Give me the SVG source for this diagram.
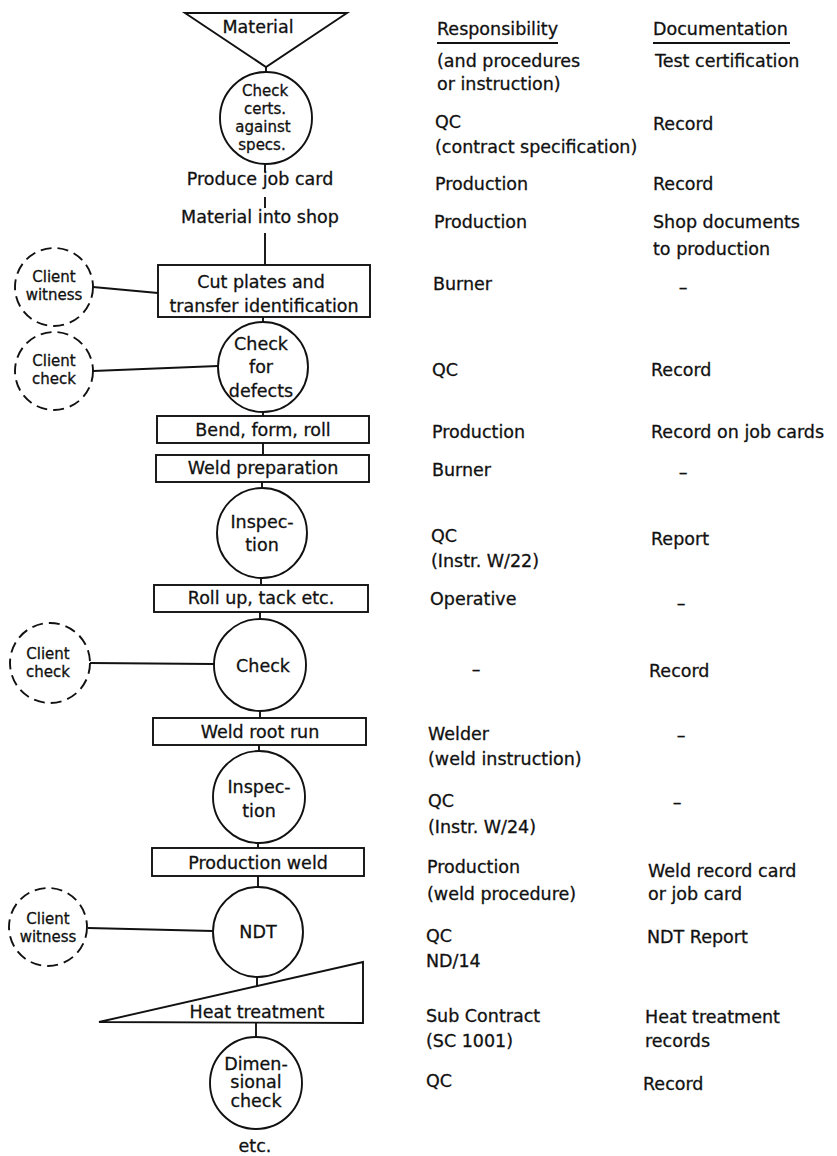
<svg xmlns="http://www.w3.org/2000/svg" width="837" height="1156" viewBox="0 0 837 1156">
  <style>
    text { font-family: "DejaVu Sans", "Liberation Sans", sans-serif; font-size: 17.5px; fill: #111; stroke: #111; stroke-width: 0.3; }
    .c { text-anchor: middle; }
    .cl { font-size: 15px; }
    .shape { fill: none; stroke: #111; stroke-width: 1.9; }
    .dash { fill: none; stroke: #111; stroke-width: 1.9; stroke-dasharray: 11 6; }
    .conn line { stroke: #111; stroke-width: 1.9; }
  </style>
  <rect width="837" height="1156" fill="#fff"/>

  <!-- connectors -->
  <g id="connectors" class="conn">
    <line x1="266" y1="67" x2="266" y2="72"/>
    <line x1="265" y1="164" x2="265" y2="172"/>
    <line x1="265" y1="197" x2="265" y2="208"/>
    <line x1="265" y1="233" x2="265" y2="265"/>
    <line x1="263" y1="317" x2="263" y2="322"/>
    <line x1="263" y1="412" x2="263" y2="416"/>
    <line x1="263" y1="443" x2="263" y2="455"/>
    <line x1="262" y1="482" x2="262" y2="487"/>
    <line x1="261" y1="578" x2="261" y2="585"/>
    <line x1="260" y1="612" x2="260" y2="620"/>
    <line x1="260" y1="711" x2="260" y2="718"/>
    <line x1="259" y1="745" x2="259" y2="752"/>
    <line x1="258" y1="843" x2="258" y2="848"/>
    <line x1="258" y1="876" x2="258" y2="887"/>
    <line x1="257" y1="977" x2="257" y2="986"/>
    <line x1="256" y1="1023" x2="256" y2="1037"/>
    <!-- client links -->
    <line x1="93" y1="287" x2="158" y2="293"/>
    <line x1="93" y1="371" x2="218" y2="366"/>
    <line x1="90" y1="663" x2="214" y2="664"/>
    <line x1="88" y1="928" x2="213" y2="931"/>
  </g>

  <!-- process column -->
  <g id="material">
    <polygon class="shape" points="185,13 347,13 266,67"/>
    <text class="c" x="258" y="33">Material</text>
  </g>
  <g id="check-certs">
    <circle class="shape" cx="266" cy="118" r="46"/>
    <text class="c cl" x="265" y="96">Check</text>
    <text class="c cl" x="265" y="114">certs.</text>
    <text class="c cl" x="263" y="132">against</text>
    <text class="c cl" x="262" y="150">specs.</text>
  </g>
  <g id="job-card">
    <text class="c" x="260" y="185">Produce job card</text>
  </g>
  <g id="into-shop">
    <text class="c" x="260" y="223">Material into shop</text>
  </g>
  <g id="cut-plates">
    <rect class="shape" x="158" y="265" width="212" height="52"/>
    <text class="c" x="261" y="288">Cut plates and</text>
    <text class="c" x="264" y="312">transfer identification</text>
  </g>
  <g id="check-defects">
    <circle class="shape" cx="263" cy="367" r="45"/>
    <text class="c" x="261" y="350">Check</text>
    <text class="c" x="261" y="373">for</text>
    <text class="c" x="261" y="397">defects</text>
  </g>
  <g id="bend">
    <rect class="shape" x="157" y="416" width="212" height="27"/>
    <text class="c" x="263" y="436">Bend, form, roll</text>
  </g>
  <g id="weld-prep">
    <rect class="shape" x="156" y="455" width="213" height="27"/>
    <text class="c" x="263" y="474">Weld preparation</text>
  </g>
  <g id="inspection-1">
    <circle class="shape" cx="262" cy="533" r="45"/>
    <text class="c" x="262" y="528">Inspec-</text>
    <text class="c" x="262" y="551">tion</text>
  </g>
  <g id="roll-up">
    <rect class="shape" x="154" y="585" width="214" height="27"/>
    <text class="c" x="261" y="604">Roll up, tack etc.</text>
  </g>
  <g id="check">
    <circle class="shape" cx="260" cy="665" r="46"/>
    <text class="c" x="263" y="672">Check</text>
  </g>
  <g id="weld-root">
    <rect class="shape" x="153" y="718" width="213" height="27"/>
    <text class="c" x="260" y="738">Weld root run</text>
  </g>
  <g id="inspection-2">
    <circle class="shape" cx="259" cy="797" r="46"/>
    <text class="c" x="259" y="793">Inspec-</text>
    <text class="c" x="259" y="817">tion</text>
  </g>
  <g id="production-weld">
    <rect class="shape" x="152" y="848" width="212" height="28"/>
    <text class="c" x="258" y="869">Production weld</text>
  </g>
  <g id="ndt">
    <circle class="shape" cx="258" cy="932" r="45"/>
    <text class="c" x="258" y="938">NDT</text>
  </g>
  <g id="heat-treatment">
    <polygon class="shape" points="99,1022 363,962 363,1023"/>
    <text class="c" x="257" y="1018">Heat treatment</text>
  </g>
  <g id="dimensional-check">
    <circle class="shape" cx="256" cy="1083" r="46"/>
    <text class="c" x="256" y="1070">Dimen-</text>
    <text class="c" x="256" y="1088">sional</text>
    <text class="c" x="256" y="1107">check</text>
  </g>
  <g id="etc">
    <text class="c" x="255" y="1152">etc.</text>
  </g>

  <!-- client involvement -->
  <g id="client-witness-1">
    <circle class="dash" cx="54" cy="287" r="39"/>
    <text class="c cl" x="54" y="282">Client</text>
    <text class="c cl" x="54" y="300">witness</text>
  </g>
  <g id="client-check-1">
    <circle class="dash" cx="54" cy="371" r="39"/>
    <text class="c cl" x="54" y="366">Client</text>
    <text class="c cl" x="54" y="384">check</text>
  </g>
  <g id="client-check-2">
    <circle class="dash" cx="50" cy="663" r="40"/>
    <text class="c cl" x="48" y="659">Client</text>
    <text class="c cl" x="48" y="677">check</text>
  </g>
  <g id="client-witness-2">
    <circle class="dash" cx="48" cy="927" r="39"/>
    <text class="c cl" x="48" y="924">Client</text>
    <text class="c cl" x="48" y="942">witness</text>
  </g>

  <!-- responsibility column -->
  <g id="responsibility">
    <text x="437" y="35">Responsibility</text>
    <line class="shape" x1="437" y1="43" x2="558" y2="43"/>
    <text x="437" y="67">(and procedures</text>
    <text x="437" y="90">or instruction)</text>
    <text x="435" y="128">QC</text>
    <text x="435" y="153">(contract specification)</text>
    <text x="435" y="190">Production</text>
    <text x="434" y="228">Production</text>
    <text x="433" y="290">Burner</text>
    <text x="432" y="376">QC</text>
    <text x="432" y="438">Production</text>
    <text x="432" y="476">Burner</text>
    <text x="431" y="542">QC</text>
    <text x="431" y="567">(Instr. W/22)</text>
    <text x="430" y="605">Operative</text>
    <text x="476" y="675" class="c">–</text>
    <text x="428" y="740">Welder</text>
    <text x="428" y="765">(weld instruction)</text>
    <text x="428" y="807">QC</text>
    <text x="428" y="833">(Instr. W/24)</text>
    <text x="427" y="873">Production</text>
    <text x="427" y="900">(weld procedure)</text>
    <text x="426" y="942">QC</text>
    <text x="426" y="967">ND/14</text>
    <text x="426" y="1022">Sub Contract</text>
    <text x="426" y="1047">(SC 1001)</text>
    <text x="426" y="1087">QC</text>
  </g>

  <!-- documentation column -->
  <g id="documentation">
    <text x="653" y="35">Documentation</text>
    <line class="shape" x1="653" y1="43" x2="790" y2="43"/>
    <text x="655" y="67">Test certification</text>
    <text x="653" y="130">Record</text>
    <text x="653" y="190">Record</text>
    <text x="653" y="228">Shop documents</text>
    <text x="653" y="255">to production</text>
    <text x="683" y="293" class="c">–</text>
    <text x="651" y="376">Record</text>
    <text x="651" y="438">Record on job cards</text>
    <text x="683" y="478" class="c">–</text>
    <text x="651" y="545">Report</text>
    <text x="681" y="609" class="c">–</text>
    <text x="649" y="677">Record</text>
    <text x="681" y="741" class="c">–</text>
    <text x="677" y="808" class="c">–</text>
    <text x="648" y="877">Weld record card</text>
    <text x="648" y="900">or job card</text>
    <text x="647" y="943">NDT Report</text>
    <text x="645" y="1023">Heat treatment</text>
    <text x="645" y="1047">records</text>
    <text x="643" y="1090">Record</text>
  </g>
</svg>
